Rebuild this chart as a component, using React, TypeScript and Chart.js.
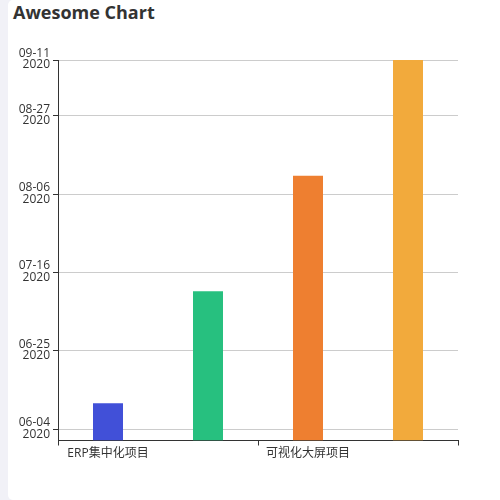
import React, { useEffect, useRef } from "react";
import { Chart, registerables } from "chart.js";

Chart.register(...registerables);

const projects = ["ERP集中化项目", "数据中台项目", "可视化大屏项目", "移动办公项目"];
const endDates = ["2020-06-11", "2020-07-11", "2020-08-11", "2020-09-11"];
const barColors = ["#4150d8", "#27c07f", "#ee7f30", "#f2aa3c"];
const tickDates = ["2020-06-04", "2020-06-25", "2020-07-16", "2020-08-06", "2020-08-27", "2020-09-11"];
const axisMinDate = "2020-06-01";
const axisMaxDate = "2020-09-11";

const toDay = (s: string) => {
  const [y, m, d] = s.split("-").map(Number);
  return Date.UTC(y, m - 1, d) / 86400000;
};

const fmtDay = (v: number) => {
  const dt = new Date(v * 86400000);
  const mm = String(dt.getUTCMonth() + 1).padStart(2, "0");
  const dd = String(dt.getUTCDate()).padStart(2, "0");
  return [mm + "-" + dd, String(dt.getUTCFullYear())];
};

const FONT = "'Open Sans', 'Noto Sans CJK SC', sans-serif";

const App = () => {
  const chartRef = useRef<HTMLCanvasElement>(null);

  useEffect(() => {
    document.body.style.margin = "0";
    document.body.style.background = "#f1f1f7";
    document.body.style.overflow = "hidden";
    if (!chartRef.current) return;

    const chart = new Chart(chartRef.current, {
      type: "bar",
      data: {
        labels: projects,
        datasets: [
          {
            data: endDates.map(toDay),
            backgroundColor: barColors,
            base: toDay(axisMinDate),
            barPercentage: 0.3,
            categoryPercentage: 1,
          },
        ],
      },
      options: {
        animation: false,
        responsive: false,
        devicePixelRatio: 1,
        layout: { padding: { top: 60, right: 42, left: 0, bottom: 0 } },
        plugins: { legend: { display: false }, tooltip: { enabled: false } },
        scales: {
          x: {
            offset: true,
            afterFit: (s: any) => {
              s.height = 57.5;
            },
            grid: {
              offset: true,
              drawOnChartArea: false,
              tickLength: 5,
              tickColor: (ctx: any) => (ctx.index !== undefined && ctx.index % 2 === 1 ? "rgba(0,0,0,0)" : "#333"),
            },
            border: { color: "#333", width: 1 },
            ticks: {
              autoSkip: false,
              maxRotation: 0,
              padding: 1,
              color: "#333",
              font: { family: FONT, size: 12 },
              callback: (_v: any, i: number) => (i % 2 === 0 ? projects[i] : ""),
            },
          },
          y: {
            min: toDay(axisMinDate),
            max: toDay(axisMaxDate),
            afterFit: (s: any) => {
              s.width = 50;
            },
            afterBuildTicks: (s: any) => {
              s.ticks = tickDates.map((d) => ({ value: toDay(d) }));
            },
            grid: { color: "#cccccc", tickColor: "#333", tickLength: 5 },
            border: { color: "#333", width: 1 },
            ticks: {
              padding: 3,
              labelOffset: -1,
              color: "#333",
              font: { family: FONT, size: 12, lineHeight: 0.97 },
              callback: (v: any) => fmtDay(Number(v)),
            },
          },
        },
      },
    });

    return () => {
      chart.destroy();
    };
  }, []);

  return (
    <div
      style={{
        position: "absolute",
        left: 8,
        top: 0,
        width: 500,
        height: 500,
        background: "#fff",
        borderRadius: 5,
      }}
    >
      <div
        style={{
          position: "absolute",
          left: 5,
          top: -1,
          fontFamily: FONT,
          fontWeight: "bold",
          fontSize: 18,
          lineHeight: "26px",
          color: "#333",
        }}
      >
        Awesome Chart
      </div>
      <canvas
        ref={chartRef}
        width={492}
        height={498}
        style={{ position: "absolute", left: 0, top: 0 }}
      ></canvas>
    </div>
  );
};

export default App;
